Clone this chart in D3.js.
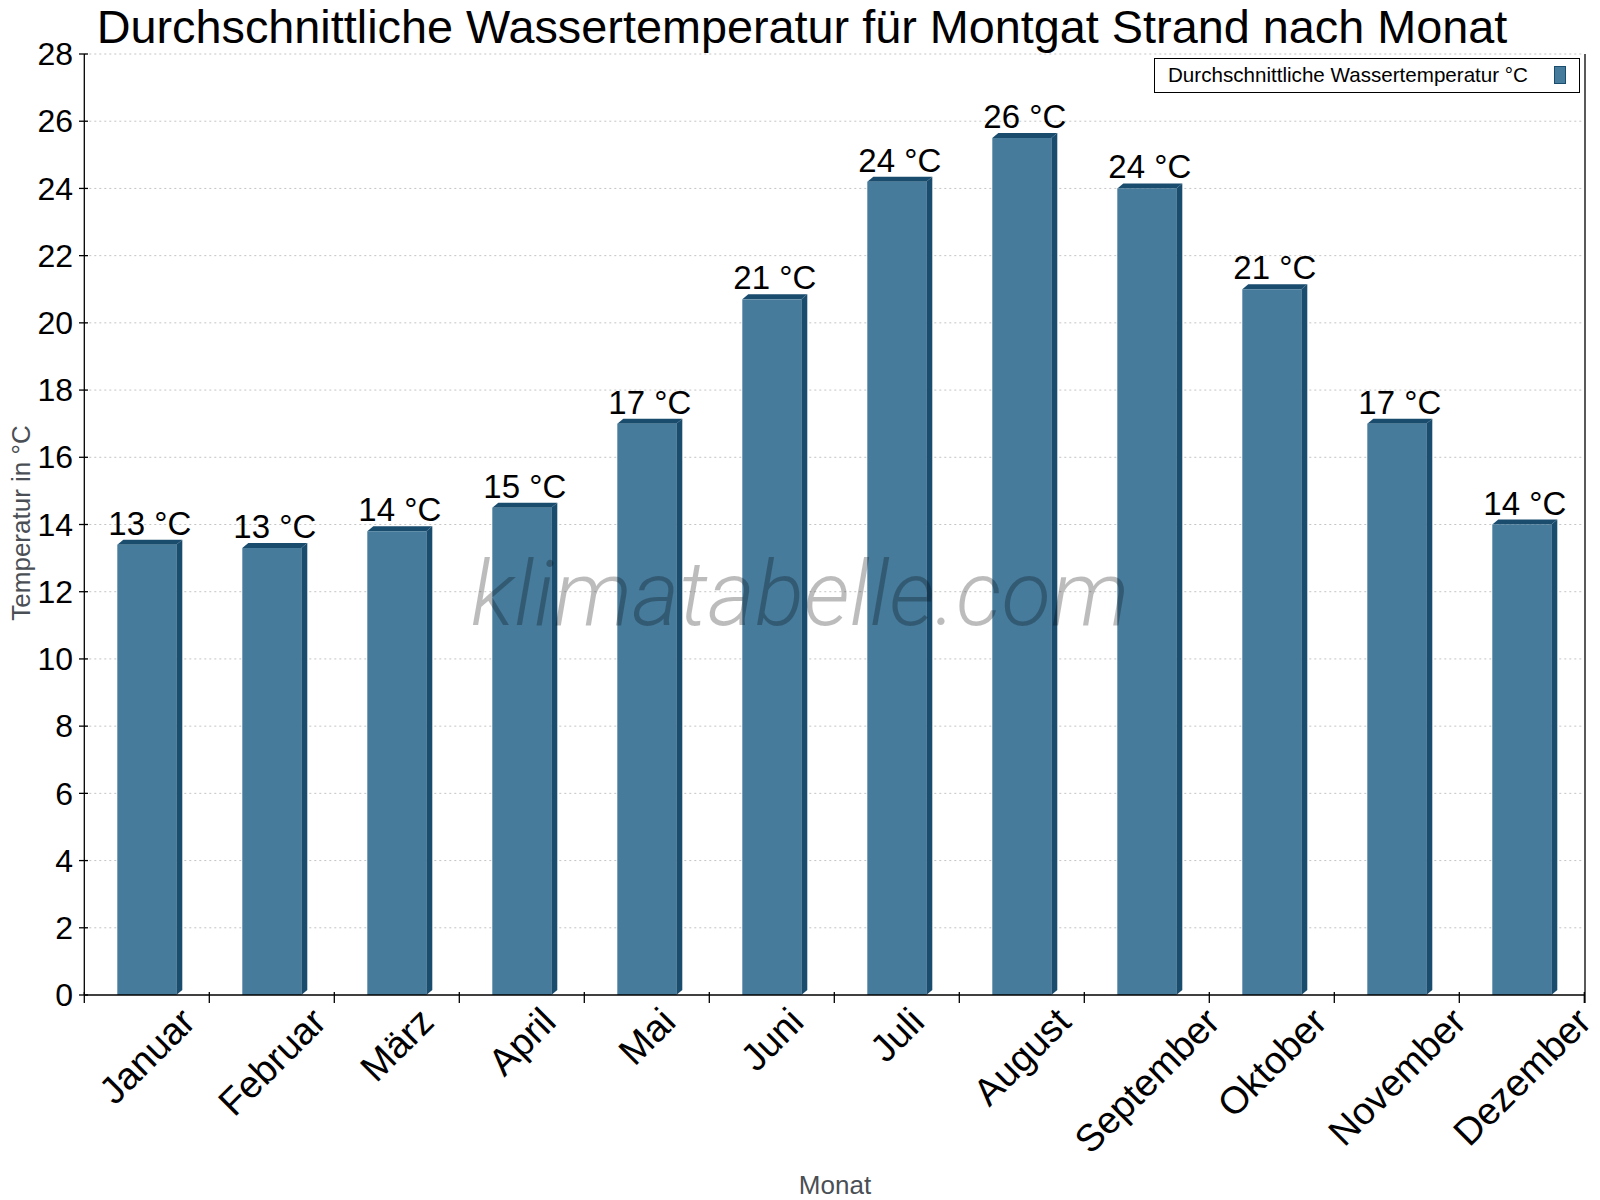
<!DOCTYPE html>
<html>
<head>
<meta charset="utf-8">
<script src="https://cdn.jsdelivr.net/npm/d3@7"></script>
<style>
  body { margin: 0; background: #fff; }
  text { font-family: "Liberation Sans", Arial, sans-serif; }
</style>
</head>
<body>
<svg id="chart" width="1600" height="1200"></svg>
<script>
// Inputs
const months = ["Januar", "Februar", "März", "April", "Mai", "Juni",
  "Juli", "August", "September", "Oktober", "November", "Dezember"];
const waterTemps = [13.4, 13.3, 13.8, 14.5, 17.0, 20.7, 24.2, 25.5, 24.0, 21.0, 17.0, 14.0];
const yTicks = [0, 2, 4, 6, 8, 10, 12, 14, 16, 18, 20, 22, 24, 26, 28];

const titleText = "Durchschnittliche Wassertemperatur für Montgat Strand nach Monat";
const legendText = "Durchschnittliche Wassertemperatur °C";

const frontColor = "#467b9c";
const darkColor = "#1a4c6e";

const svg = d3.select("#chart");

// Scales
const xScale = d3.scaleBand().domain(months).range([84.3, 1584.3]).padding(0);
const yScale = d3.scaleLinear().domain([0, 28]).range([995, 54]);

const barWidth = 59;
const depthX = 6;
const depthY = 5;

// Grid
svg.append("g")
  .selectAll("line")
  .data(yTicks.filter((d) => d > 0))
  .join("line")
  .attr("x1", xScale.range()[0])
  .attr("x2", xScale.range()[1])
  .attr("y1", (d) => yScale(d))
  .attr("y2", (d) => yScale(d))
  .attr("stroke", "#c4c4c4")
  .attr("stroke-width", 1)
  .attr("stroke-dasharray", "2,3");

// Bars
const bars = svg.append("g")
  .selectAll("g.bar")
  .data(months.map((m, i) => ({ month: m, value: waterTemps[i] })))
  .join("g")
  .classed("bar", true);

bars.each(function (d) {
  const g = d3.select(this);
  const x0 = xScale(d.month) + (xScale.bandwidth() - barWidth) / 2;
  const x1 = x0 + barWidth;
  const yTop = yScale(d.value);
  const yBot = yScale(0);

  // side
  g.append("path")
    .attr("d", `M${x1},${yTop} L${x1 + depthX},${yTop - depthY} L${x1 + depthX},${yBot - depthY} L${x1},${yBot} Z`)
    .attr("fill", darkColor);
  // top
  g.append("path")
    .attr("d", `M${x0},${yTop} L${x0 + depthX},${yTop - depthY} L${x1 + depthX},${yTop - depthY} L${x1},${yTop} Z`)
    .attr("fill", darkColor);
  // front
  g.append("rect")
    .attr("x", x0)
    .attr("y", yTop)
    .attr("width", barWidth)
    .attr("height", yBot - yTop)
    .attr("fill", frontColor);
});

// Value labels
bars.append("text")
  .attr("x", (d) => xScale(d.month) + xScale.bandwidth() / 2 + 3)
  .attr("y", (d) => yScale(d.value) - 10)
  .attr("text-anchor", "middle")
  .style("font-size", "33px")
  .style("fill", "#000")
  .text((d) => `${Math.round(d.value)} °C`);

// Watermark (on top of bars, translucent)
svg.append("text")
  .attr("x", 800)
  .attr("y", 625)
  .attr("text-anchor", "middle")
  .style("font-family", "Roboto, 'Liberation Sans', sans-serif")
  .style("font-weight", 300)
  .style("font-style", "italic")
  .style("font-size", "91px")
  .style("fill", "#000")
  .style("opacity", 0.26)
  .text("klimatabelle.com");

// Axes lines
const axes = svg.append("g").attr("stroke", "#000").attr("stroke-width", 1.3);
axes.append("line")
  .attr("x1", 84.3).attr("x2", 84.3)
  .attr("y1", yScale(28)).attr("y2", yScale(0));
axes.append("line")
  .attr("x1", 84.3).attr("x2", 1585)
  .attr("y1", yScale(0)).attr("y2", yScale(0));
axes.append("line")
  .attr("x1", 1585).attr("x2", 1585)
  .attr("y1", yScale(28)).attr("y2", yScale(0) + 8);

// Y ticks
axes.selectAll("line.ytick")
  .data(yTicks)
  .join("line")
  .classed("ytick", true)
  .attr("x1", 79).attr("x2", 88)
  .attr("y1", (d) => yScale(d)).attr("y2", (d) => yScale(d));

svg.append("g")
  .selectAll("text")
  .data(yTicks)
  .join("text")
  .attr("x", 73)
  .attr("y", (d) => yScale(d))
  .attr("dy", "0.35em")
  .attr("text-anchor", "end")
  .style("font-size", "32px")
  .style("fill", "#000")
  .text((d) => d);

// X ticks at band edges
const edges = months.map((m) => xScale(m)).concat([xScale.range()[1]]);
axes.selectAll("line.xtick")
  .data(edges)
  .join("line")
  .classed("xtick", true)
  .attr("x1", (d) => d).attr("x2", (d) => d)
  .attr("y1", yScale(0) - 3).attr("y2", yScale(0) + 8);

// X labels, rotated
const xLabelSize = 38;
const xLabels = svg.append("g")
  .selectAll("text")
  .data(months)
  .join("text")
  .attr("text-anchor", "middle")
  .attr("dy", "0.35em")
  .style("font-size", xLabelSize + "px")
  .style("fill", "#000")
  .text((d) => d);

xLabels.each(function (d) {
  const w = this.getComputedTextLength();
  const cx = xScale(d) + xScale.bandwidth() / 2;
  const cy = 1005 + 0.7071 * (w / 2 + (xLabelSize * 0.716) / 2);
  d3.select(this)
    .attr("x", cx)
    .attr("y", cy)
    .attr("transform", `rotate(-45,${cx},${cy})`);
});

// Axis titles
svg.append("text")
  .attr("x", 835)
  .attr("y", 1194)
  .attr("text-anchor", "middle")
  .style("font-size", "26px")
  .style("fill", "#4a4f55")
  .text("Monat");

svg.append("text")
  .attr("transform", "translate(30,523) rotate(-90)")
  .attr("text-anchor", "middle")
  .style("font-size", "26px")
  .style("fill", "#4a4f55")
  .text("Temperatur in °C");

// Title
svg.append("text")
  .attr("x", 802)
  .attr("y", 43)
  .attr("text-anchor", "middle")
  .style("font-size", "46.8px")
  .style("fill", "#000")
  .text(titleText);

// Legend
const legend = svg.append("g");
legend.append("rect")
  .attr("x", 1154.5).attr("y", 58.5)
  .attr("width", 425).attr("height", 34)
  .attr("fill", "#fff")
  .attr("stroke", "#000")
  .attr("stroke-width", 1);
legend.append("text")
  .attr("x", 1168)
  .attr("y", 82)
  .style("font-size", "20.6px")
  .style("fill", "#000")
  .text(legendText);
legend.append("rect")
  .attr("x", 1554.5).attr("y", 66.5)
  .attr("width", 11).attr("height", 17)
  .attr("fill", frontColor)
  .attr("stroke", darkColor)
  .attr("stroke-width", 1);
</script>
</body>
</html>
